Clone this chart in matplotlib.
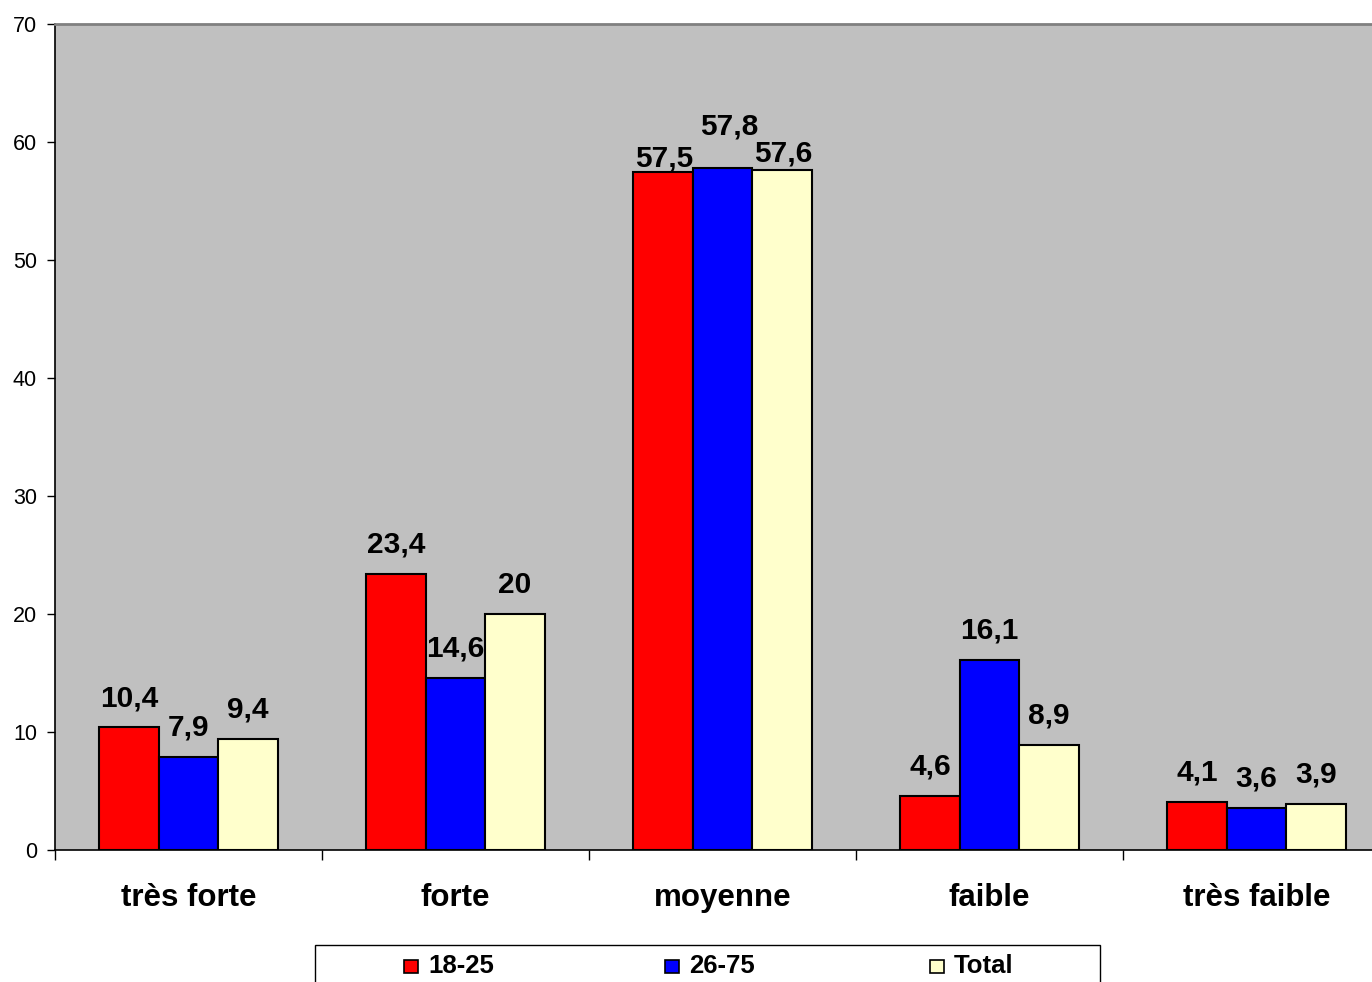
import matplotlib
matplotlib.use("Agg")
import matplotlib.pyplot as plt
from matplotlib.patches import Rectangle
import numpy as np

plt.rcParams['font.family'] = ['Liberation Sans', 'DejaVu Sans']

categories = ["très forte", "forte", "moyenne", "faible", "très faible"]
series_names = ["18-25", "26-75", "Total"]
values_18_25 = [10.4, 23.4, 57.5, 4.6, 4.1]
values_26_75 = [7.9, 14.6, 57.8, 16.1, 3.6]
values_total = [9.4, 20.0, 57.6, 8.9, 3.9]
colors = ["#FF0000", "#0000FF", "#FFFFCC"]

W, H = 1372, 982
DPI = 100
fig = plt.figure(figsize=(W / DPI, H / DPI), dpi=DPI)
fig.patch.set_facecolor("white")

# plot area in pixel terms
left_px, right_px, top_px, bottom_px = 55, 55 + 1335, 24, 850
ax = fig.add_axes([left_px / W, (H - bottom_px) / H,
                   (right_px - left_px) / W, (bottom_px - top_px) / H])
ax.set_facecolor("#C0C0C0")

x = np.arange(len(categories))
bw = 0.2225
all_series = [values_18_25, values_26_75, values_total]

def fmt(v):
    s = f"{v:.1f}".replace(".", ",")
    if s.endswith(",0"):
        s = s[:-2]
    return s

# per-label nudges (points) for the crowded middle group
nudge = {(2, 0): (1, -12), (2, 1): (5, 9), (2, 2): (1, -9)}

for i, (vals, col) in enumerate(zip(all_series, colors)):
    xs = x + (i - 1) * bw
    ax.bar(xs, vals, width=bw, color=col, edgecolor="black", linewidth=1.5,
           zorder=3)
    for j, (xx, v) in enumerate(zip(xs, vals)):
        dx, dy = nudge.get((j, i), (0, 0))
        ax.annotate(fmt(v), (xx, v), xytext=(dx, 11 + dy),
                    textcoords="offset points", ha="center", va="bottom",
                    fontsize=21.5, fontweight="bold", color="black", zorder=4)

ax.set_xlim(-0.5, len(categories) - 0.5)
ax.set_ylim(0, 70)
ax.set_yticks(np.arange(0, 71, 10))
ax.tick_params(axis="y", labelsize=15.5, length=6, width=1, direction="out",
               pad=7)

# category boundaries as major ticks, names as minor ticks at group centres
ax.set_xticks(np.arange(-0.5, len(categories), 1.0))
ax.set_xticklabels([])
ax.tick_params(axis="x", which="major", length=7, width=1, direction="out")
ax.set_xticks(x, minor=True)
ax.set_xticklabels(categories, minor=True, fontsize=22.5, fontweight="bold")
ax.tick_params(axis="x", which="minor", length=0, pad=24)

for side in ["left", "bottom"]:
    ax.spines[side].set_color("black")
    ax.spines[side].set_linewidth(1.2)
ax.spines["top"].set_color("#808080")
ax.spines["top"].set_linewidth(2)
ax.spines["right"].set_visible(False)

# legend box along the bottom edge
def fx(px):
    return px / W

def fy(py):
    return (H - py) / H

fig.patches.append(Rectangle((fx(315), fy(990)), fx(1100) - fx(315),
                             fy(945) - fy(990), transform=fig.transFigure,
                             facecolor="white", edgecolor="black",
                             linewidth=1.0))
entry_x = [404, 665, 930]
for ex, name, col in zip(entry_x, series_names, colors):
    fig.patches.append(Rectangle((fx(ex), fy(973)), fx(14), fy(960) - fy(973),
                                 transform=fig.transFigure, facecolor=col,
                                 edgecolor="black", linewidth=1.2))
    fig.text(fx(ex + 24), fy(966), name, fontsize=18.5, fontweight="bold",
             ha="left", va="center")

fig.savefig("out.png", dpi=DPI)
